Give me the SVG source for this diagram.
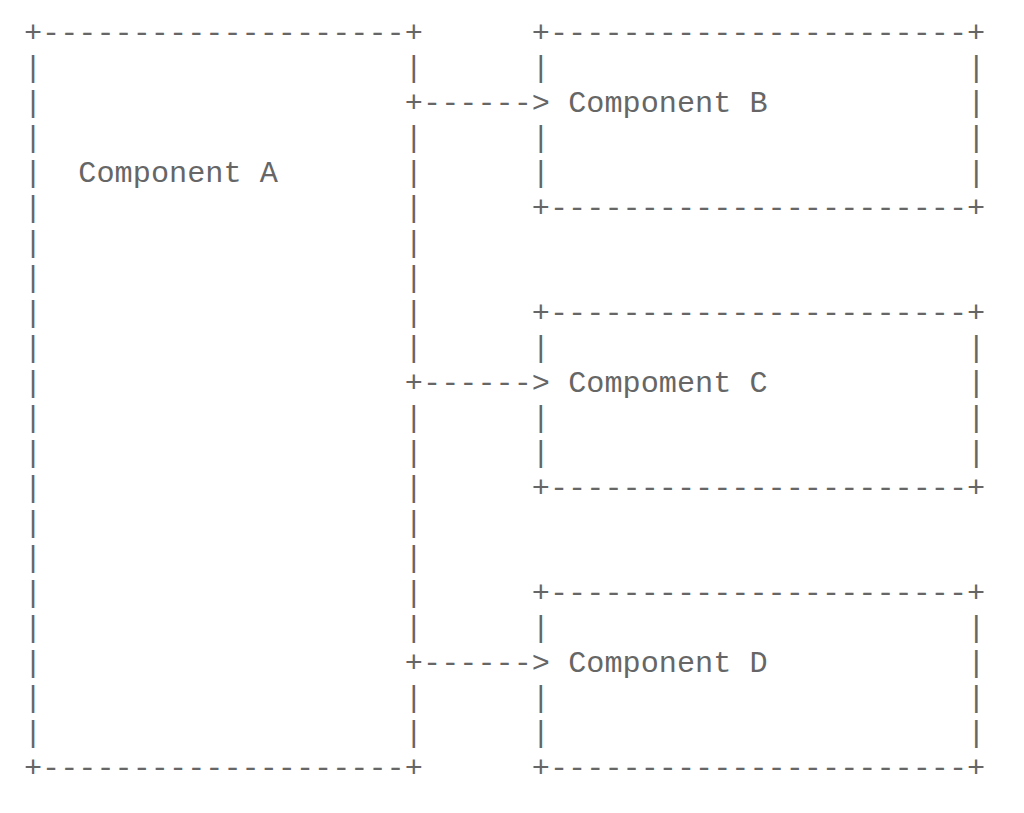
<svg xmlns="http://www.w3.org/2000/svg" xmlns:xlink="http://www.w3.org/1999/xlink" width="1024" height="813" viewBox="0 0 1024 813">
<style>
.t { font-family: "Liberation Mono", "DejaVu Sans Mono", monospace; font-size: 30.23px; fill: #666666; white-space: pre; }
</style>
<defs>
<text id="bar" class="t" x="0" y="0">|</text>
<text id="hA" class="t" x="0" y="0">+--------------------+</text>
<text id="hB" class="t" x="0" y="0">+-----------------------+</text>
<text id="arr" class="t" x="0" y="0">+------&gt;</text>
</defs>
<rect width="1024" height="813" fill="#ffffff"/>
<g id="node-a">
<use xlink:href="#hA" x="23.93" y="42"/>
<use xlink:href="#hA" x="23.93" y="777"/>
<use xlink:href="#bar" x="23.93" y="77"/><use xlink:href="#bar" x="23.93" y="112"/><use xlink:href="#bar" x="23.93" y="147"/><use xlink:href="#bar" x="23.93" y="182"/><use xlink:href="#bar" x="23.93" y="217"/><use xlink:href="#bar" x="23.93" y="252"/><use xlink:href="#bar" x="23.93" y="287"/><use xlink:href="#bar" x="23.93" y="322"/><use xlink:href="#bar" x="23.93" y="357"/><use xlink:href="#bar" x="23.93" y="392"/><use xlink:href="#bar" x="23.93" y="427"/><use xlink:href="#bar" x="23.93" y="462"/><use xlink:href="#bar" x="23.93" y="497"/><use xlink:href="#bar" x="23.93" y="532"/><use xlink:href="#bar" x="23.93" y="567"/><use xlink:href="#bar" x="23.93" y="602"/><use xlink:href="#bar" x="23.93" y="637"/><use xlink:href="#bar" x="23.93" y="672"/><use xlink:href="#bar" x="23.93" y="707"/><use xlink:href="#bar" x="23.93" y="742"/>
<use xlink:href="#bar" x="404.87" y="77"/><use xlink:href="#bar" x="404.87" y="147"/><use xlink:href="#bar" x="404.87" y="182"/><use xlink:href="#bar" x="404.87" y="217"/><use xlink:href="#bar" x="404.87" y="252"/><use xlink:href="#bar" x="404.87" y="287"/><use xlink:href="#bar" x="404.87" y="322"/><use xlink:href="#bar" x="404.87" y="357"/><use xlink:href="#bar" x="404.87" y="427"/><use xlink:href="#bar" x="404.87" y="462"/><use xlink:href="#bar" x="404.87" y="497"/><use xlink:href="#bar" x="404.87" y="532"/><use xlink:href="#bar" x="404.87" y="567"/><use xlink:href="#bar" x="404.87" y="602"/><use xlink:href="#bar" x="404.87" y="637"/><use xlink:href="#bar" x="404.87" y="707"/><use xlink:href="#bar" x="404.87" y="742"/>
<text class="t" x="78.35" y="182">Component A</text>
</g>
<g id="node-b">
<use xlink:href="#hB" x="531.85" y="42"/>
<use xlink:href="#hB" x="531.85" y="217"/>
<use xlink:href="#bar" x="531.85" y="77"/><use xlink:href="#bar" x="531.85" y="147"/><use xlink:href="#bar" x="531.85" y="182"/>
<use xlink:href="#bar" x="967.21" y="77"/><use xlink:href="#bar" x="967.21" y="112"/><use xlink:href="#bar" x="967.21" y="147"/><use xlink:href="#bar" x="967.21" y="182"/>
<text class="t" x="568.13" y="112">Component B</text>
</g>
<g id="node-c">
<use xlink:href="#hB" x="531.85" y="322"/>
<use xlink:href="#hB" x="531.85" y="497"/>
<use xlink:href="#bar" x="531.85" y="357"/><use xlink:href="#bar" x="531.85" y="427"/><use xlink:href="#bar" x="531.85" y="462"/>
<use xlink:href="#bar" x="967.21" y="357"/><use xlink:href="#bar" x="967.21" y="392"/><use xlink:href="#bar" x="967.21" y="427"/><use xlink:href="#bar" x="967.21" y="462"/>
<text class="t" x="568.13" y="392">Compoment C</text>
</g>
<g id="node-d">
<use xlink:href="#hB" x="531.85" y="602"/>
<use xlink:href="#hB" x="531.85" y="777"/>
<use xlink:href="#bar" x="531.85" y="637"/><use xlink:href="#bar" x="531.85" y="707"/><use xlink:href="#bar" x="531.85" y="742"/>
<use xlink:href="#bar" x="967.21" y="637"/><use xlink:href="#bar" x="967.21" y="672"/><use xlink:href="#bar" x="967.21" y="707"/><use xlink:href="#bar" x="967.21" y="742"/>
<text class="t" x="568.13" y="672">Component D</text>
</g>
<g id="connectors">
<use xlink:href="#arr" x="404.87" y="112"/>
<use xlink:href="#arr" x="404.87" y="392"/>
<use xlink:href="#arr" x="404.87" y="672"/>
</g>
</svg>
